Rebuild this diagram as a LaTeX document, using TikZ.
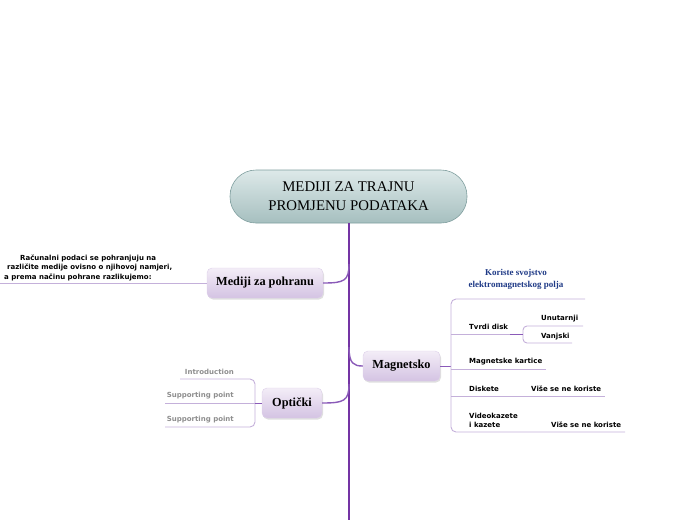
\documentclass[tikz,border=0pt]{standalone}
\usepackage{fontspec}
\setmainfont{Liberation Serif}
\newfontfamily\vf{DejaVu Sans}
\usetikzlibrary{shadows}
\definecolor{trunkc}{HTML}{7434A4}
\definecolor{branchc}{HTML}{8A5AB8}
\definecolor{thinc}{HTML}{C4B0DA}
\definecolor{rootT}{HTML}{DDE9E9}
\definecolor{rootB}{HTML}{A6BFBF}
\definecolor{rootD}{HTML}{7F9E9E}
\definecolor{subT}{HTML}{F3EDF7}
\definecolor{subB}{HTML}{D4C3E3}
\definecolor{bluet}{HTML}{1F3A86}
\definecolor{greyt}{HTML}{8E8E8E}
\tikzset{
  rootbox/.style={rectangle, rounded corners=26pt, minimum width=237pt, minimum height=53pt,
    top color=rootT, bottom color=rootB, draw=rootD, line width=0.6pt, align=center,
    font=\fontsize{14.8}{19}\selectfont, inner sep=0pt},
  subbox/.style={rectangle, rounded corners=5pt, minimum height=30pt, inner sep=0pt,
    top color=subT, bottom color=subB, draw=subB!80!white, line width=0.4pt,
    font=\fontsize{12.3}{14}\selectfont\bfseries,
    drop shadow={opacity=0.25, shadow xshift=1pt, shadow yshift=-1.5pt}},
  trunk/.style={draw=trunkc, line width=2.6pt},
  branch/.style={draw=branchc, line width=1.4pt},
  thinl/.style={draw=thinc, line width=0.9pt},
  small/.style={font=\vf\bfseries\fontsize{7}{9.5}\selectfont, inner sep=0pt},
  greysmall/.style={small, text=greyt},
  bluelab/.style={font=\bfseries\fontsize{9}{12}\selectfont, text=bluet, align=center, inner sep=0pt},
}
\begin{document}
\begin{tikzpicture}[x=1pt,y=-1pt]
\useasboundingbox (0,0) rectangle (696,520);
% trunk
\coordinate (tend) at (349,520);
\node[rootbox] (root) at (348.5,196.5) {MEDIJI ZA TRAJNU\\PROMJENU PODATAKA};
\draw[trunk] (root.south -| tend) -- (tend);

% subtopics
\node[subbox, minimum width=116pt] (pohr) at (265,283) {Mediji za pohranu};
\node[subbox, minimum width=60pt] (opt) at (292,403) {Optički};
\node[subbox, minimum width=77pt] (mag) at (401.5,366) {Magnetsko};

\coordinate (b1) at (349,264);
\coordinate (b2) at (349,384);
\coordinate (b3) at (349,347);
\draw[branch] (b1) .. controls (349,281) and (344,283) .. (pohr.east);
\draw[branch] (b2) .. controls (349,401) and (344,403) .. (opt.east);
\draw[branch] (b3) .. controls (349,364) and (354,366) .. (mag.west);

% Mediji za pohranu text
\coordinate (p0) at (0,283);
\draw[thinl] (pohr.west) -- (p0);
\node[small, align=left, anchor=north west] (ptext) at (4,254.3)
  {\hspace*{16pt}Računalni podaci se pohranjuju na\\
   \hspace*{3pt}različite medije ovisno o njihovoj namjeri,\\
   a prema načinu pohrane razlikujemo:};

% Opticki bracket
\coordinate (o1) at (180,379);
\coordinate (o2) at (165,403);
\coordinate (o3) at (165,427);
\draw[thinl, rounded corners=5pt] (o1) -- (255,379) -- (255,427) -- (o3);
\draw[thinl] (opt.west) -- (o2);
\draw[branch, line width=1pt] (opt.west) -- (255,403);
\node[greysmall, anchor=east] (intro) at (234,372) {Introduction};
\node[greysmall, anchor=east] (sp1) at (234,396) {Supporting point};
\node[greysmall, anchor=east] (sp2) at (234,420) {Supporting point};

% Magnetsko bracket
\coordinate (m0) at (451,366);
\coordinate (mt) at (585,299);
\coordinate (mb) at (625,432);
\draw[branch, line width=1pt] (mag.east) -- (m0);
\draw[thinl, rounded corners=5pt] (mt) -- (451,299) -- (451,432) -- (mb);
\node[bluelab] (blue) at (516,279) {Koriste svojstvo\\elektromagnetskog polja};

% Tvrdi disk
\coordinate (td) at (523,334);
\draw[thinl] (451,334) -- (td);
\node[small, anchor=west] (tvrdi) at (469,327) {Tvrdi disk};
\coordinate (u1) at (583,326);
\coordinate (v1) at (572,343);
\draw[thinl, rounded corners=4pt] (u1) -- (523,326) -- (523,343) -- (v1);
\draw[branch, line width=0.9pt] (510,334) -- (td);
\node[small, anchor=west] (unut) at (541,318.5) {Unutarnji};
\node[small, anchor=west] (vanj) at (541,336.5) {Vanjski};

% Magnetske kartice
\coordinate (k1) at (546,369);
\draw[thinl] (451,369) -- (k1);
\node[small, anchor=west] (kart) at (469,362) {Magnetske kartice};

% Diskete
\coordinate (d1) at (605,396);
\draw[thinl] (451,396) -- (d1);
\node[small, anchor=west] (disk) at (469,388.5) {Diskete};
\node[small, anchor=west] (dvise) at (531,388.5) {Više se ne koriste};

% Videokazete
\node[small, anchor=west, align=left] (video) at (469,420.5) {Videokazete\\i kazete};
\node[small, anchor=west] (vvise) at (551,425) {Više se ne koriste};
\end{tikzpicture}
\end{document}
